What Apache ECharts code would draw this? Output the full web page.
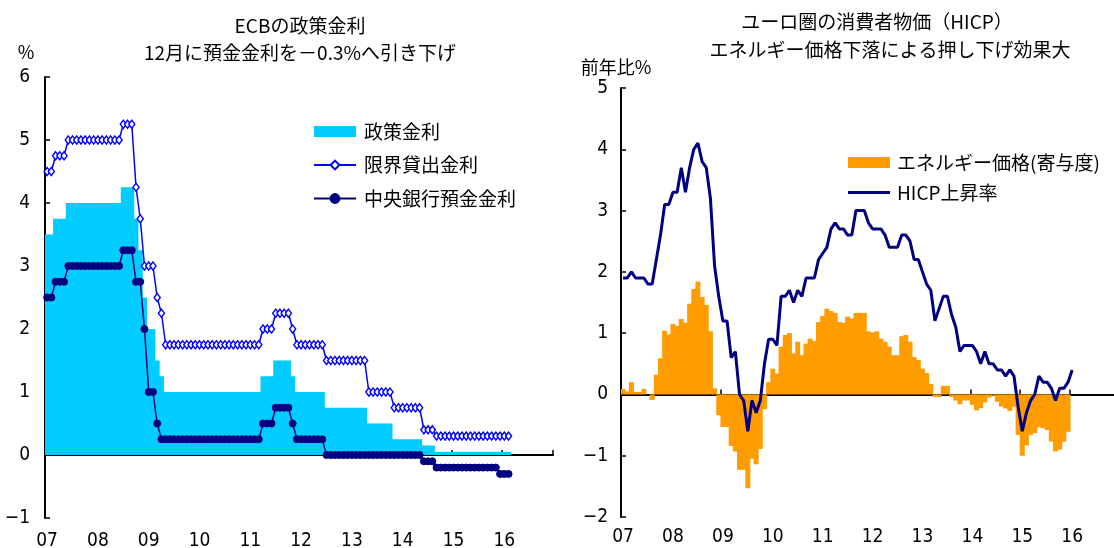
<!DOCTYPE html>
<html>
<head>
<meta charset="utf-8">
<script src="https://cdn.jsdelivr.net/npm/echarts@6/dist/echarts.min.js"></script>
<style>
html,body{margin:0;padding:0;background:#fff;}
#chart{width:1114px;height:548px;}
</style>
</head>
<body>
<div id="chart"></div>
<script>
// ---- data (monthly, Jan 2007 onward) ----
const yearLabels = ['07','08','09','10','11','12','13','14','15','16'];

// ECB main refinancing rate, Jan 2007 - Feb 2016
const policyRate = [
  3.5,3.5,3.75,3.75,3.75,4,4,4,4,4,4,4,
  4,4,4,4,4,4,4.25,4.25,4.25,3.75,3.25,2.5,
  2,2,1.5,1.25,1,1,1,1,1,1,1,1,
  1,1,1,1,1,1,1,1,1,1,1,1,
  1,1,1,1.25,1.25,1.25,1.5,1.5,1.5,1.5,1.25,1,
  1,1,1,1,1,1,0.75,0.75,0.75,0.75,0.75,0.75,
  0.75,0.75,0.75,0.75,0.5,0.5,0.5,0.5,0.5,0.5,0.25,0.25,
  0.25,0.25,0.25,0.25,0.25,0.15,0.15,0.15,0.05,0.05,0.05,0.05,
  0.05,0.05,0.05,0.05,0.05,0.05,0.05,0.05,0.05,0.05,0.05,0.05,
  0.05,0.05
];

// Marginal lending facility rate
const marginalRate = [
  4.5,4.5,4.75,4.75,4.75,5,5,5,5,5,5,5,
  5,5,5,5,5,5,5.25,5.25,5.25,4.25,3.75,3,
  3,3,2.5,2.25,1.75,1.75,1.75,1.75,1.75,1.75,1.75,1.75,
  1.75,1.75,1.75,1.75,1.75,1.75,1.75,1.75,1.75,1.75,1.75,1.75,
  1.75,1.75,1.75,2,2,2,2.25,2.25,2.25,2.25,2,1.75,
  1.75,1.75,1.75,1.75,1.75,1.75,1.5,1.5,1.5,1.5,1.5,1.5,
  1.5,1.5,1.5,1.5,1,1,1,1,1,1,0.75,0.75,
  0.75,0.75,0.75,0.75,0.75,0.4,0.4,0.4,0.3,0.3,0.3,0.3,
  0.3,0.3,0.3,0.3,0.3,0.3,0.3,0.3,0.3,0.3,0.3,0.3,
  0.3,0.3
];

// Deposit facility rate
const depositRate = [
  2.5,2.5,2.75,2.75,2.75,3,3,3,3,3,3,3,
  3,3,3,3,3,3,3.25,3.25,3.25,2.75,2.75,2,
  1,1,0.5,0.25,0.25,0.25,0.25,0.25,0.25,0.25,0.25,0.25,
  0.25,0.25,0.25,0.25,0.25,0.25,0.25,0.25,0.25,0.25,0.25,0.25,
  0.25,0.25,0.25,0.5,0.5,0.5,0.75,0.75,0.75,0.75,0.5,0.25,
  0.25,0.25,0.25,0.25,0.25,0.25,0,0,0,0,0,0,
  0,0,0,0,0,0,0,0,0,0,0,0,
  0,0,0,0,0,-0.1,-0.1,-0.1,-0.2,-0.2,-0.2,-0.2,
  -0.2,-0.2,-0.2,-0.2,-0.2,-0.2,-0.2,-0.2,-0.2,-0.2,-0.2,-0.3,
  -0.3,-0.3
];

// Euro area HICP, y/y %, Jan 2007 - Jan 2016
const hicp = [
  1.9,1.9,2.0,1.9,1.9,1.9,1.8,1.8,2.2,2.6,3.1,3.1,
  3.3,3.3,3.7,3.3,3.7,4.0,4.1,3.8,3.7,3.2,2.1,1.6,
  1.2,1.2,0.6,0.7,0.0,-0.1,-0.6,-0.1,-0.3,-0.1,0.5,0.9,
  0.9,0.8,1.6,1.6,1.7,1.5,1.7,1.6,1.9,1.9,1.9,2.2,
  2.3,2.4,2.7,2.8,2.7,2.7,2.6,2.6,3.0,3.0,3.0,2.8,
  2.7,2.7,2.7,2.6,2.4,2.4,2.4,2.6,2.6,2.5,2.2,2.2,
  2.0,1.8,1.7,1.2,1.4,1.6,1.6,1.3,1.1,0.7,0.8,0.8,
  0.8,0.7,0.5,0.7,0.5,0.5,0.4,0.4,0.3,0.4,0.3,-0.2,
  -0.6,-0.3,-0.1,0.0,0.3,0.2,0.2,0.1,-0.1,0.1,0.1,0.2,
  0.4
];

// Energy contribution, % pt, Jan 2007 - Dec 2015
const energy = [
  0.09,0.05,0.2,0.04,0.04,0.09,0,-0.09,0.32,0.59,1.04,0.98,
  1.15,1.12,1.23,1.17,1.48,1.72,1.84,1.59,1.46,1.03,0.1,-0.34,
  -0.53,-0.53,-0.84,-0.93,-1.23,-1.23,-1.53,-1.05,-1.14,-0.89,-0.24,0.2,
  0.42,0.34,0.78,0.97,1.0,0.67,0.86,0.64,0.83,0.91,0.87,1.18,
  1.28,1.4,1.36,1.33,1.18,1.17,1.27,1.24,1.33,1.33,1.33,1.03,
  1.01,1.03,0.91,0.86,0.78,0.64,0.64,0.95,0.97,0.86,0.61,0.56,
  0.42,0.35,0.17,-0.04,-0.04,0.14,0.14,-0.04,-0.1,-0.16,-0.1,-0.1,
  -0.17,-0.26,-0.22,-0.13,-0.05,-0.02,-0.12,-0.2,-0.23,-0.27,-0.2,-0.66,
  -1.0,-0.83,-0.66,-0.63,-0.53,-0.55,-0.58,-0.77,-0.93,-0.9,-0.77,-0.61
];

// month categories Jan 2007 - Dec 2016
const months = [];
for (let y = 2007; y <= 2016; y++) {
  for (let m = 1; m <= 12; m++) months.push(y + '/' + m);
}

const CJK = '"Noto Sans CJK JP", "Noto Sans CJK SC", sans-serif';
const NUM = '"Liberation Sans Narrow", "Arial Narrow", "DejaVu Sans Condensed", "Liberation Sans", sans-serif';

const CYAN = '#00CCFF';
const ORANGE = '#FF9C00';
const NAVY = '#000080';
const BLUE = '#0000FF';

function yearFmt(v, i) { return (i % 12 === 0) ? yearLabels[i / 12] : ''; }
function numFmt(v) { return v < 0 ? '\u2212' + Math.abs(v) : String(v); }

function lineAxis(gridIndex) {
  return {
    type: 'category', gridIndex: gridIndex, data: months, position: 'bottom',
    boundaryGap: true,
    axisLine: { show: true, onZero: true, lineStyle: { color: '#000', width: 2 } },
    axisTick: { show: true, inside: true, length: 5, interval: 11, lineStyle: { color: '#000', width: 1.5 } },
    axisLabel: { show: false },
    splitLine: { show: false }
  };
}
function labelAxis(gridIndex, margin) {
  return {
    type: 'category', gridIndex: gridIndex, data: months, position: 'bottom',
    boundaryGap: true,
    axisLine: { show: false, onZero: false },
    axisTick: { show: false },
    axisLabel: { show: true, interval: 11, formatter: yearFmt, margin: margin,
      color: '#000', fontSize: 19, fontFamily: NUM },
    splitLine: { show: false }
  };
}
function valAxis(gridIndex, min, max, name, nameGap, namePad, labelMargin) {
  return {
    type: 'value', gridIndex: gridIndex, min: min, max: max, interval: 1,
    name: name, nameLocation: 'end', nameGap: nameGap,
    nameTextStyle: { color: '#000', fontSize: 18, fontFamily: CJK, align: 'center', padding: namePad },
    axisLine: { show: true, lineStyle: { color: '#000', width: 2 } },
    axisTick: { show: true, inside: true, length: 5, lineStyle: { color: '#000', width: 1.5 } },
    axisLabel: { color: '#000', fontSize: 19, fontFamily: NUM, margin: labelMargin, formatter: numFmt },
    splitLine: { show: false }
  };
}

const lineIcon = 'path://M0,0 L42,0 L42,3 L0,3 Z';

const chart = echarts.init(document.getElementById('chart'), null, { renderer: 'canvas' });
chart.setOption({
  animation: false,
  backgroundColor: '#fff',
  graphic: [
    { type: 'text', x: 300, y: 26, style: { text: 'ECBの政策金利', fontSize: 19, fontFamily: CJK, fill: '#000', align: 'center', verticalAlign: 'middle' } },
    { type: 'text', x: 300, y: 53, style: { text: '12月に預金金利を－0.3%へ引き下げ', fontSize: 19, fontFamily: CJK, fill: '#000', align: 'center', verticalAlign: 'middle' } },
    { type: 'text', x: 877, y: 22, style: { text: 'ユーロ圏の消費者物価（HICP）', fontSize: 19, fontFamily: CJK, fill: '#000', align: 'center', verticalAlign: 'middle' } },
    { type: 'text', x: 890, y: 50, style: { text: 'エネルギー価格下落による押し下げ効果大', fontSize: 19, fontFamily: CJK, fill: '#000', align: 'center', verticalAlign: 'middle' } }
  ],
  grid: [
    { left: 45, top: 77, width: 508, height: 441, containLabel: false, outerBoundsMode: 'none' },
    { left: 621, top: 88, width: 499, height: 429, containLabel: false, outerBoundsMode: 'none' }
  ],
  legend: [
    {
      orient: 'vertical', left: 313, top: 122, padding: 0, itemWidth: 42, itemHeight: 11, itemGap: 14.5,
      textStyle: { color: '#000', fontSize: 19, fontFamily: CJK, padding: [0, 0, 0, 3] },
      data: [
        { name: '政策金利', icon: 'rect' },
        { name: '限界貸出金利' },
        { name: '中央銀行預金金利' }
      ],
      selectedMode: false
    },
    {
      orient: 'vertical', left: 848, top: 153, padding: 0, itemWidth: 42, itemHeight: 11, itemGap: 11,
      textStyle: { color: '#000', fontSize: 19, fontFamily: CJK, padding: [0, 0, 0, 2] },
      data: [
        { name: 'エネルギー価格(寄与度)', icon: 'rect' },
        { name: 'HICP上昇率', icon: lineIcon }
      ],
      selectedMode: false
    }
  ],
  xAxis: [ lineAxis(0), labelAxis(0, 14), lineAxis(1), labelAxis(1, 11) ],
  yAxis: [
    valAxis(0, -1, 6, '%', 16, [0, 38, 0, 0], 15),
    valAxis(1, -2, 5, '前年比%', 12, [0, 10, 0, 0], 13)
  ],
  series: [
    {
      name: '政策金利', type: 'bar', xAxisIndex: 0, yAxisIndex: 0,
      data: policyRate, barWidth: 5, barGap: '-100%',
      itemStyle: { color: CYAN }, z: 1
    },
    {
      name: '限界貸出金利', type: 'line', xAxisIndex: 0, yAxisIndex: 0,
      data: marginalRate, symbol: 'diamond', symbolSize: [6, 8], showAllSymbol: true,
      lineStyle: { color: BLUE, width: 1.5 },
      itemStyle: { color: '#FFFFFF', borderColor: BLUE, borderWidth: 1.5 }, z: 3
    },
    {
      name: '中央銀行預金金利', type: 'line', xAxisIndex: 0, yAxisIndex: 0,
      data: depositRate, symbol: 'circle', symbolSize: 7, showAllSymbol: true,
      lineStyle: { color: NAVY, width: 1.5 },
      itemStyle: { color: NAVY, borderColor: NAVY, borderWidth: 1 }, z: 3
    },
    {
      name: 'エネルギー価格(寄与度)', type: 'bar', xAxisIndex: 2, yAxisIndex: 1,
      data: energy, barWidth: 5, barGap: '-100%',
      itemStyle: { color: ORANGE }, z: 1
    },
    {
      name: 'HICP上昇率', type: 'line', xAxisIndex: 2, yAxisIndex: 1,
      data: hicp, symbol: 'none', showSymbol: false,
      lineStyle: { color: NAVY, width: 3 },
      itemStyle: { color: NAVY }, z: 3
    }
  ]
});
</script>
</body>
</html>
